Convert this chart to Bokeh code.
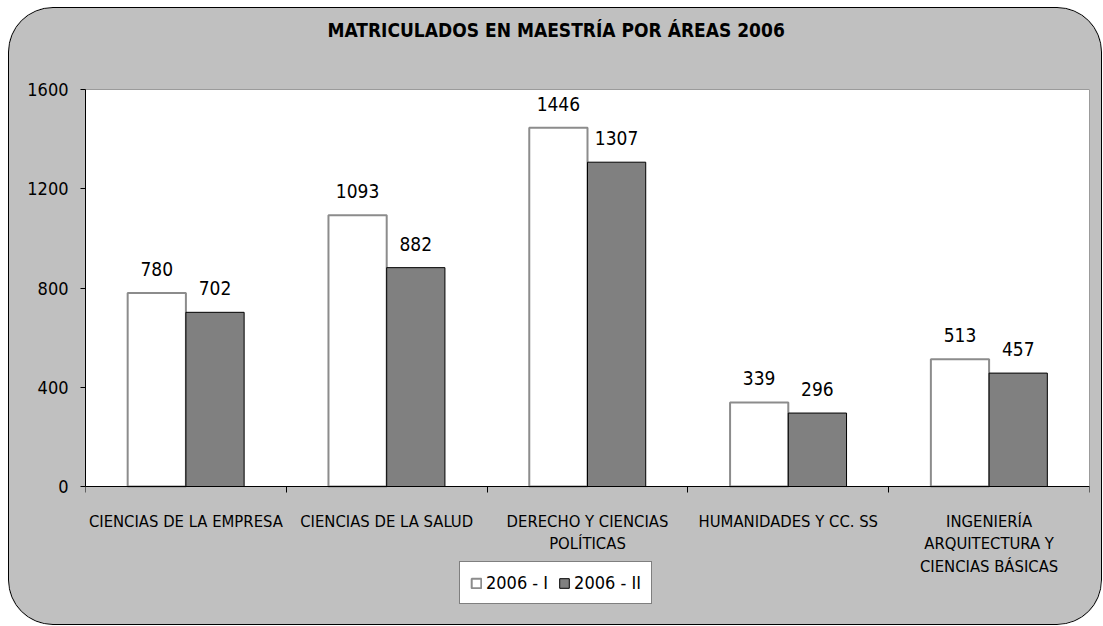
from bokeh.plotting import figure
from bokeh.models import (ColumnDataSource, Range1d, FixedTicker, LabelSet,
                          Legend, LegendItem, InlineStyleSheet, Title)
from bokeh.core.properties import value
from bokeh.transform import dodge
from bokeh.embed import file_html
from bokeh.resources import INLINE

categories = ["CIENCIAS DE LA EMPRESA", "CIENCIAS DE LA SALUD",
              "DERECHO Y CIENCIAS\nPOLÍTICAS", "HUMANIDADES Y CC. SS",
              "INGENIERÍA\nARQUITECTURA Y\nCIENCIAS BÁSICAS"]
series_names = ["2006 - I", "2006 - II"]
values_I = [780, 1093, 1446, 339, 513]
values_II = [702, 882, 1307, 296, 457]
y_ticks = [0, 400, 800, 1200, 1600]
title_text = "MATRICULADOS EN MAESTRÍA POR ÁREAS 2006"

FONT = "DejaVu Sans Condensed"

# layout (pixels): the frame runs from the plot top down to the box bottom so
# that the legend (below the axis) lies inside it
W, H = 1094, 618
TOP, LEFT, RIGHT, BOTTOM = 82, 77, 13, 8
AXIS_PX = 397                      # pixel height of 0..1600
frame_h = H - TOP - BOTTOM
y_max = y_ticks[-1]
y_min = -(frame_h - AXIS_PX) * y_max / AXIS_PX

xc = [i + 0.5 for i in range(len(categories))]
src = ColumnDataSource(dict(x=xc, v1=values_I, v2=values_II,
                            t1=[str(v) for v in values_I],
                            t2=[str(v) for v in values_II]))

p = figure(width=W, height=H, output_backend="svg", toolbar_location=None,
           x_range=Range1d(0, len(categories)), y_range=Range1d(y_min, y_max),
           min_border_left=LEFT, min_border_right=RIGHT, min_border_top=TOP,
           min_border_bottom=BOTTOM, title_location=None)
p.styles = {"border-radius": "45px", "overflow": "hidden",
            "background-color": "#C0C0C0",
            "margin-left": "8px", "margin-top": "7px"}
p.stylesheets = [InlineStyleSheet(css=":host::after { content: ''; position: absolute; "
                                      "left: 0; top: 0; right: 0; bottom: 0; "
                                      "border: 1px solid black; border-radius: 45px; "
                                      "pointer-events: none; z-index: 100; }")]
p.border_fill_color = "#C0C0C0"
p.background_fill_color = "#C0C0C0"
p.outline_line_color = None
p.xgrid.visible = False
p.ygrid.visible = False

# white plot area
p.quad(left=0, right=len(categories), bottom=0, top=y_max, fill_color="white",
       line_color="#666666", line_width=1, level="underlay")

bw = 0.29
r1 = p.vbar(x=dodge("x", -bw / 2, range=p.x_range), top="v1", width=bw, source=src,
            fill_color="white", line_color="#8C8C8C", line_width=2)
r2 = p.vbar(x=dodge("x", bw / 2, range=p.x_range), top="v2", width=bw, source=src,
            fill_color="#808080", line_color="black", line_width=1)

for col, t, off in (("v1", "t1", -bw / 2), ("v2", "t2", bw / 2)):
    p.add_layout(LabelSet(x=dodge("x", off, range=p.x_range), y=col, text=t, source=src,
                          text_align="center", text_baseline="alphabetic",
                          y_offset=17, text_font=value(FONT), text_font_size="19px",
                          text_color="black"))

# x axis at y = 0: labels at category centres, tick marks at boundaries
xa = p.xaxis[0]
xa.fixed_location = 0
xa.ticker = FixedTicker(ticks=xc, minor_ticks=list(range(len(categories) + 1)))
xa.major_label_overrides = {x: c for x, c in zip(xc, categories)}
xa.major_tick_line_color = None
xa.major_tick_out = 0
xa.major_tick_in = 0
xa.minor_tick_out = 6
xa.minor_tick_in = 0
xa.minor_tick_line_color = "black"
xa.axis_line_color = "black"
xa.major_label_text_font = FONT
xa.major_label_text_font_size = "16.5px"
xa.major_label_text_color = "black"
xa.major_label_standoff = 19

ya = p.yaxis[0]
ya.ticker = FixedTicker(ticks=y_ticks, minor_ticks=[])
ya.bounds = (0, y_max)
ya.major_tick_out = 5
ya.major_tick_in = 0
ya.major_tick_line_color = "black"
ya.axis_line_color = "black"
ya.major_label_text_font = FONT
ya.major_label_text_font_size = "18px"
ya.major_label_text_color = "black"
ya.major_label_standoff = 12

legend = Legend(items=[LegendItem(label=series_names[0], renderers=[r1]),
                       LegendItem(label=series_names[1], renderers=[r2])],
                orientation="horizontal", location=(374, 13),
                label_text_font=FONT, label_text_font_size="18px",
                label_text_color="black", glyph_width=12, glyph_height=12,
                label_standoff=4, spacing=10, padding=10, margin=0,
                border_line_color="black", border_line_width=1,
                background_fill_color="white", background_fill_alpha=1)
p.add_layout(legend, "center")

spacer = Title(text=" ", text_font=FONT, text_font_size="20px", standoff=18)
p.add_layout(spacer, "above")
title = Title(text=title_text, align="left", offset=242, text_font=FONT,
              text_font_size="19px", text_font_style="bold", text_color="black",
              standoff=10)
p.add_layout(title, "above")

open("out.html", "w").write(file_html(p, INLINE))
